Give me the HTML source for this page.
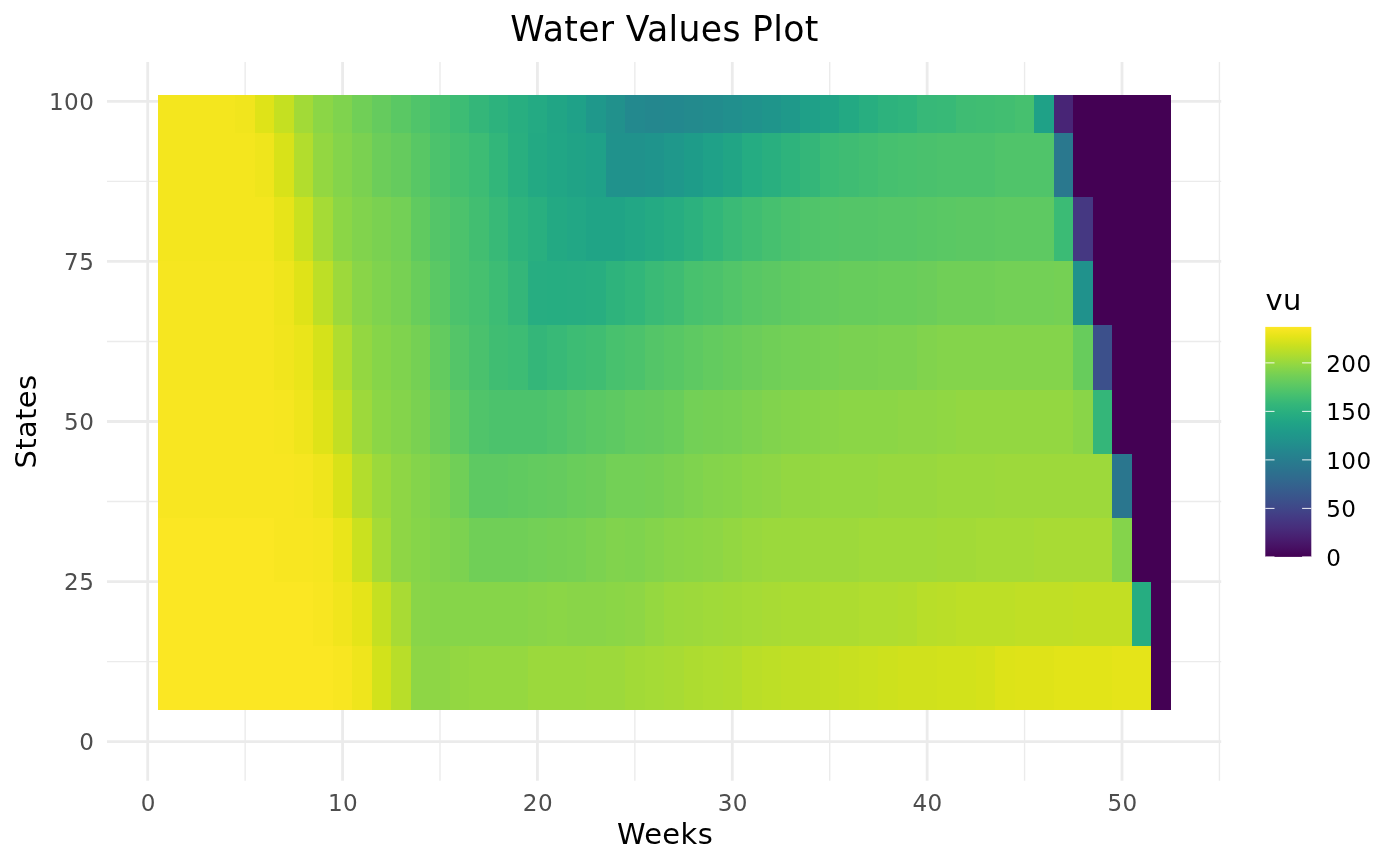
<!DOCTYPE html>
<html><head><meta charset="utf-8"><title>Water Values Plot</title>
<style>
html,body{margin:0;padding:0;background:#fff;}
body{width:1400px;height:865px;overflow:hidden;}
svg{display:block;}
text{font-family:"DejaVu Sans","Liberation Sans",sans-serif;}
.tick{font-size:23.1px;fill:#4d4d4d;letter-spacing:.35px;}
.leg{font-size:23.1px;fill:#000;letter-spacing:.35px;}
.ttl{font-size:28.9px;fill:#000;letter-spacing:.4px;}
</style></head><body>
<svg width="1400" height="865" viewBox="0 0 1400 865">
<rect x="0" y="0" width="1400" height="865" fill="#ffffff"/>

<g stroke="#ebebeb" stroke-width="1.4" fill="none">
<line x1="245.13" x2="245.13" y1="62.00" y2="780.80"/>
<line x1="439.99" x2="439.99" y1="62.00" y2="780.80"/>
<line x1="634.85" x2="634.85" y1="62.00" y2="780.80"/>
<line x1="829.71" x2="829.71" y1="62.00" y2="780.80"/>
<line x1="1024.57" x2="1024.57" y1="62.00" y2="780.80"/>
<line x1="1219.43" x2="1219.43" y1="62.00" y2="780.80"/>
<line x1="107.00" x2="1221.20" y1="661.65" y2="661.65"/>
<line x1="107.00" x2="1221.20" y1="501.55" y2="501.55"/>
<line x1="107.00" x2="1221.20" y1="341.45" y2="341.45"/>
<line x1="107.00" x2="1221.20" y1="181.35" y2="181.35"/>
</g>
<g stroke="#ebebeb" stroke-width="2.8" fill="none">
<line x1="147.70" x2="147.70" y1="62.00" y2="780.80"/>
<line x1="342.56" x2="342.56" y1="62.00" y2="780.80"/>
<line x1="537.42" x2="537.42" y1="62.00" y2="780.80"/>
<line x1="732.28" x2="732.28" y1="62.00" y2="780.80"/>
<line x1="927.14" x2="927.14" y1="62.00" y2="780.80"/>
<line x1="1122.00" x2="1122.00" y1="62.00" y2="780.80"/>
<line x1="107.00" x2="1221.20" y1="741.70" y2="741.70"/>
<line x1="107.00" x2="1221.20" y1="581.60" y2="581.60"/>
<line x1="107.00" x2="1221.20" y1="421.50" y2="421.50"/>
<line x1="107.00" x2="1221.20" y1="261.40" y2="261.40"/>
<line x1="107.00" x2="1221.20" y1="101.30" y2="101.30"/>
</g>
<g shape-rendering="crispEdges" stroke="none">
<rect x="158.00" y="95.00" width="77.69" height="38.00" fill="#f4e61e"/>
<rect x="235.39" y="95.00" width="19.79" height="38.00" fill="#f1e51d"/>
<rect x="254.87" y="95.00" width="19.79" height="38.00" fill="#dfe318"/>
<rect x="274.36" y="95.00" width="19.79" height="38.00" fill="#c5e021"/>
<rect x="293.85" y="95.00" width="19.79" height="38.00" fill="#a2da37"/>
<rect x="313.33" y="95.00" width="19.79" height="38.00" fill="#8bd646"/>
<rect x="332.82" y="95.00" width="19.79" height="38.00" fill="#7fd34e"/>
<rect x="352.30" y="95.00" width="19.79" height="38.00" fill="#70cf57"/>
<rect x="371.79" y="95.00" width="19.79" height="38.00" fill="#65cb5e"/>
<rect x="391.27" y="95.00" width="19.79" height="38.00" fill="#5ac864"/>
<rect x="410.76" y="95.00" width="19.79" height="38.00" fill="#50c46a"/>
<rect x="430.25" y="95.00" width="19.79" height="38.00" fill="#46c06f"/>
<rect x="449.73" y="95.00" width="19.79" height="38.00" fill="#3dbc74"/>
<rect x="469.22" y="95.00" width="19.79" height="38.00" fill="#34b679"/>
<rect x="488.70" y="95.00" width="19.79" height="38.00" fill="#2db27d"/>
<rect x="508.19" y="95.00" width="19.79" height="38.00" fill="#28ae80"/>
<rect x="527.68" y="95.00" width="19.79" height="38.00" fill="#24aa83"/>
<rect x="547.16" y="95.00" width="19.79" height="38.00" fill="#21a585"/>
<rect x="566.65" y="95.00" width="19.79" height="38.00" fill="#1fa188"/>
<rect x="586.13" y="95.00" width="19.79" height="38.00" fill="#1f988b"/>
<rect x="605.62" y="95.00" width="19.79" height="38.00" fill="#21918c"/>
<rect x="625.11" y="95.00" width="19.79" height="38.00" fill="#23898e"/>
<rect x="644.59" y="95.00" width="19.79" height="38.00" fill="#24878e"/>
<rect x="664.08" y="95.00" width="19.79" height="38.00" fill="#23888e"/>
<rect x="683.57" y="95.00" width="19.79" height="38.00" fill="#238a8d"/>
<rect x="703.05" y="95.00" width="19.79" height="38.00" fill="#228c8d"/>
<rect x="722.54" y="95.00" width="19.79" height="38.00" fill="#218f8d"/>
<rect x="742.02" y="95.00" width="19.79" height="38.00" fill="#20928c"/>
<rect x="761.51" y="95.00" width="19.79" height="38.00" fill="#1f958b"/>
<rect x="781.00" y="95.00" width="19.79" height="38.00" fill="#1f998a"/>
<rect x="800.48" y="95.00" width="19.79" height="38.00" fill="#1fa088"/>
<rect x="819.97" y="95.00" width="19.79" height="38.00" fill="#20a386"/>
<rect x="839.45" y="95.00" width="19.79" height="38.00" fill="#23a983"/>
<rect x="858.94" y="95.00" width="19.79" height="38.00" fill="#28ae80"/>
<rect x="878.42" y="95.00" width="19.79" height="38.00" fill="#2db27d"/>
<rect x="897.91" y="95.00" width="19.79" height="38.00" fill="#2fb47c"/>
<rect x="917.40" y="95.00" width="19.79" height="38.00" fill="#37b878"/>
<rect x="936.88" y="95.00" width="19.79" height="38.00" fill="#38b977"/>
<rect x="956.37" y="95.00" width="19.79" height="38.00" fill="#3fbc73"/>
<rect x="975.86" y="95.00" width="19.79" height="38.00" fill="#40bd72"/>
<rect x="995.34" y="95.00" width="19.79" height="38.00" fill="#42be71"/>
<rect x="1014.83" y="95.00" width="19.79" height="38.00" fill="#46c06f"/>
<rect x="1034.31" y="95.00" width="19.79" height="38.00" fill="#1fa187"/>
<rect x="1053.80" y="95.00" width="19.79" height="38.00" fill="#482576"/>
<rect x="1073.29" y="95.00" width="97.73" height="38.00" fill="#440154"/>
<rect x="158.00" y="133.00" width="97.17" height="64.00" fill="#f4e61e"/>
<rect x="254.87" y="133.00" width="19.79" height="64.00" fill="#efe51c"/>
<rect x="274.36" y="133.00" width="19.79" height="64.00" fill="#d8e219"/>
<rect x="293.85" y="133.00" width="19.79" height="64.00" fill="#b2dd2d"/>
<rect x="313.33" y="133.00" width="19.79" height="64.00" fill="#93d741"/>
<rect x="332.82" y="133.00" width="19.79" height="64.00" fill="#84d44b"/>
<rect x="352.30" y="133.00" width="19.79" height="64.00" fill="#7ad151"/>
<rect x="371.79" y="133.00" width="19.79" height="64.00" fill="#6ccd5a"/>
<rect x="391.27" y="133.00" width="19.79" height="64.00" fill="#65cb5e"/>
<rect x="410.76" y="133.00" width="19.79" height="64.00" fill="#58c765"/>
<rect x="430.25" y="133.00" width="19.79" height="64.00" fill="#4cc26c"/>
<rect x="449.73" y="133.00" width="19.79" height="64.00" fill="#44bf70"/>
<rect x="469.22" y="133.00" width="19.79" height="64.00" fill="#3dbc74"/>
<rect x="488.70" y="133.00" width="19.79" height="64.00" fill="#32b67a"/>
<rect x="508.19" y="133.00" width="19.79" height="64.00" fill="#29af7f"/>
<rect x="527.68" y="133.00" width="19.79" height="64.00" fill="#23a983"/>
<rect x="547.16" y="133.00" width="19.79" height="64.00" fill="#21a685"/>
<rect x="566.65" y="133.00" width="19.79" height="64.00" fill="#20a386"/>
<rect x="586.13" y="133.00" width="19.79" height="64.00" fill="#1fa188"/>
<rect x="605.62" y="133.00" width="39.27" height="64.00" fill="#20928c"/>
<rect x="644.59" y="133.00" width="19.79" height="64.00" fill="#1f948c"/>
<rect x="664.08" y="133.00" width="19.79" height="64.00" fill="#1f988b"/>
<rect x="683.57" y="133.00" width="19.79" height="64.00" fill="#1e9c89"/>
<rect x="703.05" y="133.00" width="19.79" height="64.00" fill="#1fa188"/>
<rect x="722.54" y="133.00" width="19.79" height="64.00" fill="#21a585"/>
<rect x="742.02" y="133.00" width="19.79" height="64.00" fill="#25ac82"/>
<rect x="761.51" y="133.00" width="19.79" height="64.00" fill="#29af7f"/>
<rect x="781.00" y="133.00" width="19.79" height="64.00" fill="#2eb37c"/>
<rect x="800.48" y="133.00" width="19.79" height="64.00" fill="#34b679"/>
<rect x="819.97" y="133.00" width="19.79" height="64.00" fill="#3bbb75"/>
<rect x="839.45" y="133.00" width="19.79" height="64.00" fill="#3fbc73"/>
<rect x="858.94" y="133.00" width="19.79" height="64.00" fill="#42be71"/>
<rect x="878.42" y="133.00" width="19.79" height="64.00" fill="#46c06f"/>
<rect x="897.91" y="133.00" width="19.79" height="64.00" fill="#48c16e"/>
<rect x="917.40" y="133.00" width="19.79" height="64.00" fill="#4ac16d"/>
<rect x="936.88" y="133.00" width="58.76" height="64.00" fill="#4cc26c"/>
<rect x="995.34" y="133.00" width="58.76" height="64.00" fill="#50c46a"/>
<rect x="1053.80" y="133.00" width="19.79" height="64.00" fill="#2a788e"/>
<rect x="1073.29" y="133.00" width="97.73" height="64.00" fill="#440154"/>
<rect x="158.00" y="197.00" width="116.66" height="64.00" fill="#f4e61e"/>
<rect x="274.36" y="197.00" width="19.79" height="64.00" fill="#e7e419"/>
<rect x="293.85" y="197.00" width="19.79" height="64.00" fill="#cae11f"/>
<rect x="313.33" y="197.00" width="19.79" height="64.00" fill="#a5db36"/>
<rect x="332.82" y="197.00" width="19.79" height="64.00" fill="#8bd646"/>
<rect x="352.30" y="197.00" width="19.79" height="64.00" fill="#81d34d"/>
<rect x="371.79" y="197.00" width="19.79" height="64.00" fill="#7ad151"/>
<rect x="391.27" y="197.00" width="19.79" height="64.00" fill="#73d056"/>
<rect x="410.76" y="197.00" width="19.79" height="64.00" fill="#60ca60"/>
<rect x="430.25" y="197.00" width="19.79" height="64.00" fill="#54c568"/>
<rect x="449.73" y="197.00" width="19.79" height="64.00" fill="#4cc26c"/>
<rect x="469.22" y="197.00" width="19.79" height="64.00" fill="#42be71"/>
<rect x="488.70" y="197.00" width="19.79" height="64.00" fill="#38b977"/>
<rect x="508.19" y="197.00" width="19.79" height="64.00" fill="#2eb37c"/>
<rect x="527.68" y="197.00" width="19.79" height="64.00" fill="#29af7f"/>
<rect x="547.16" y="197.00" width="19.79" height="64.00" fill="#23a983"/>
<rect x="566.65" y="197.00" width="19.79" height="64.00" fill="#22a785"/>
<rect x="586.13" y="197.00" width="39.27" height="64.00" fill="#20a486"/>
<rect x="625.11" y="197.00" width="19.79" height="64.00" fill="#22a785"/>
<rect x="644.59" y="197.00" width="19.79" height="64.00" fill="#24aa83"/>
<rect x="664.08" y="197.00" width="19.79" height="64.00" fill="#27ad81"/>
<rect x="683.57" y="197.00" width="19.79" height="64.00" fill="#2cb17e"/>
<rect x="703.05" y="197.00" width="19.79" height="64.00" fill="#32b67a"/>
<rect x="722.54" y="197.00" width="19.79" height="64.00" fill="#3aba76"/>
<rect x="742.02" y="197.00" width="19.79" height="64.00" fill="#40bd72"/>
<rect x="761.51" y="197.00" width="19.79" height="64.00" fill="#46c06f"/>
<rect x="781.00" y="197.00" width="19.79" height="64.00" fill="#4cc26c"/>
<rect x="800.48" y="197.00" width="19.79" height="64.00" fill="#50c46a"/>
<rect x="819.97" y="197.00" width="19.79" height="64.00" fill="#52c569"/>
<rect x="839.45" y="197.00" width="39.27" height="64.00" fill="#54c568"/>
<rect x="878.42" y="197.00" width="39.27" height="64.00" fill="#56c667"/>
<rect x="917.40" y="197.00" width="19.79" height="64.00" fill="#58c765"/>
<rect x="936.88" y="197.00" width="19.79" height="64.00" fill="#5ac864"/>
<rect x="956.37" y="197.00" width="39.27" height="64.00" fill="#5cc863"/>
<rect x="995.34" y="197.00" width="58.76" height="64.00" fill="#5ec962"/>
<rect x="1053.80" y="197.00" width="19.79" height="64.00" fill="#3bbb75"/>
<rect x="1073.29" y="197.00" width="19.79" height="64.00" fill="#453882"/>
<rect x="1092.77" y="197.00" width="78.24" height="64.00" fill="#440154"/>
<rect x="158.00" y="261.00" width="116.66" height="64.00" fill="#f6e620"/>
<rect x="274.36" y="261.00" width="19.79" height="64.00" fill="#efe51c"/>
<rect x="293.85" y="261.00" width="19.79" height="64.00" fill="#dfe318"/>
<rect x="313.33" y="261.00" width="19.79" height="64.00" fill="#bddf26"/>
<rect x="332.82" y="261.00" width="19.79" height="64.00" fill="#9dd93b"/>
<rect x="352.30" y="261.00" width="19.79" height="64.00" fill="#89d548"/>
<rect x="371.79" y="261.00" width="19.79" height="64.00" fill="#7fd34e"/>
<rect x="391.27" y="261.00" width="19.79" height="64.00" fill="#77d153"/>
<rect x="410.76" y="261.00" width="19.79" height="64.00" fill="#69cd5b"/>
<rect x="430.25" y="261.00" width="19.79" height="64.00" fill="#5ac864"/>
<rect x="449.73" y="261.00" width="19.79" height="64.00" fill="#4cc26c"/>
<rect x="469.22" y="261.00" width="19.79" height="64.00" fill="#46c06f"/>
<rect x="488.70" y="261.00" width="19.79" height="64.00" fill="#3dbc74"/>
<rect x="508.19" y="261.00" width="19.79" height="64.00" fill="#34b679"/>
<rect x="527.68" y="261.00" width="19.79" height="64.00" fill="#27ad81"/>
<rect x="547.16" y="261.00" width="19.79" height="64.00" fill="#26ad81"/>
<rect x="566.65" y="261.00" width="19.79" height="64.00" fill="#27ad81"/>
<rect x="586.13" y="261.00" width="19.79" height="64.00" fill="#28ae80"/>
<rect x="605.62" y="261.00" width="19.79" height="64.00" fill="#2eb37c"/>
<rect x="625.11" y="261.00" width="19.79" height="64.00" fill="#32b67a"/>
<rect x="644.59" y="261.00" width="19.79" height="64.00" fill="#3aba76"/>
<rect x="664.08" y="261.00" width="19.79" height="64.00" fill="#3fbc73"/>
<rect x="683.57" y="261.00" width="19.79" height="64.00" fill="#48c16e"/>
<rect x="703.05" y="261.00" width="19.79" height="64.00" fill="#4cc26c"/>
<rect x="722.54" y="261.00" width="19.79" height="64.00" fill="#52c569"/>
<rect x="742.02" y="261.00" width="19.79" height="64.00" fill="#58c765"/>
<rect x="761.51" y="261.00" width="19.79" height="64.00" fill="#5cc863"/>
<rect x="781.00" y="261.00" width="19.79" height="64.00" fill="#60ca60"/>
<rect x="800.48" y="261.00" width="19.79" height="64.00" fill="#63cb5f"/>
<rect x="819.97" y="261.00" width="19.79" height="64.00" fill="#65cb5e"/>
<rect x="839.45" y="261.00" width="39.27" height="64.00" fill="#67cc5c"/>
<rect x="878.42" y="261.00" width="39.27" height="64.00" fill="#69cd5b"/>
<rect x="917.40" y="261.00" width="19.79" height="64.00" fill="#6ccd5a"/>
<rect x="936.88" y="261.00" width="58.76" height="64.00" fill="#70cf57"/>
<rect x="995.34" y="261.00" width="58.76" height="64.00" fill="#73d056"/>
<rect x="1053.80" y="261.00" width="19.79" height="64.00" fill="#75d054"/>
<rect x="1073.29" y="261.00" width="19.79" height="64.00" fill="#20928c"/>
<rect x="1092.77" y="261.00" width="78.24" height="64.00" fill="#440154"/>
<rect x="158.00" y="325.00" width="116.66" height="65.00" fill="#f6e620"/>
<rect x="274.36" y="325.00" width="19.79" height="65.00" fill="#f1e51d"/>
<rect x="293.85" y="325.00" width="19.79" height="65.00" fill="#eae51a"/>
<rect x="313.33" y="325.00" width="19.79" height="65.00" fill="#d5e21a"/>
<rect x="332.82" y="325.00" width="19.79" height="65.00" fill="#b0dd2f"/>
<rect x="352.30" y="325.00" width="19.79" height="65.00" fill="#93d741"/>
<rect x="371.79" y="325.00" width="19.79" height="65.00" fill="#86d549"/>
<rect x="391.27" y="325.00" width="19.79" height="65.00" fill="#7fd34e"/>
<rect x="410.76" y="325.00" width="19.79" height="65.00" fill="#75d054"/>
<rect x="430.25" y="325.00" width="19.79" height="65.00" fill="#63cb5f"/>
<rect x="449.73" y="325.00" width="19.79" height="65.00" fill="#54c568"/>
<rect x="469.22" y="325.00" width="19.79" height="65.00" fill="#4ac16d"/>
<rect x="488.70" y="325.00" width="19.79" height="65.00" fill="#40bd72"/>
<rect x="508.19" y="325.00" width="19.79" height="65.00" fill="#3dbc74"/>
<rect x="527.68" y="325.00" width="19.79" height="65.00" fill="#34b679"/>
<rect x="547.16" y="325.00" width="19.79" height="65.00" fill="#38b977"/>
<rect x="566.65" y="325.00" width="19.79" height="65.00" fill="#3dbc74"/>
<rect x="586.13" y="325.00" width="19.79" height="65.00" fill="#40bd72"/>
<rect x="605.62" y="325.00" width="19.79" height="65.00" fill="#48c16e"/>
<rect x="625.11" y="325.00" width="19.79" height="65.00" fill="#4cc26c"/>
<rect x="644.59" y="325.00" width="19.79" height="65.00" fill="#54c568"/>
<rect x="664.08" y="325.00" width="19.79" height="65.00" fill="#58c765"/>
<rect x="683.57" y="325.00" width="19.79" height="65.00" fill="#5ec962"/>
<rect x="703.05" y="325.00" width="19.79" height="65.00" fill="#63cb5f"/>
<rect x="722.54" y="325.00" width="19.79" height="65.00" fill="#67cc5c"/>
<rect x="742.02" y="325.00" width="19.79" height="65.00" fill="#6ccd5a"/>
<rect x="761.51" y="325.00" width="19.79" height="65.00" fill="#70cf57"/>
<rect x="781.00" y="325.00" width="19.79" height="65.00" fill="#73d056"/>
<rect x="800.48" y="325.00" width="19.79" height="65.00" fill="#75d054"/>
<rect x="819.97" y="325.00" width="19.79" height="65.00" fill="#77d153"/>
<rect x="839.45" y="325.00" width="39.27" height="65.00" fill="#7ad151"/>
<rect x="878.42" y="325.00" width="39.27" height="65.00" fill="#7cd250"/>
<rect x="917.40" y="325.00" width="19.79" height="65.00" fill="#81d34d"/>
<rect x="936.88" y="325.00" width="136.70" height="65.00" fill="#84d44b"/>
<rect x="1073.29" y="325.00" width="19.79" height="65.00" fill="#67cc5c"/>
<rect x="1092.77" y="325.00" width="19.79" height="65.00" fill="#3c508b"/>
<rect x="1112.26" y="325.00" width="58.76" height="65.00" fill="#440154"/>
<rect x="158.00" y="390.00" width="116.66" height="64.00" fill="#f8e621"/>
<rect x="274.36" y="390.00" width="19.79" height="64.00" fill="#f6e620"/>
<rect x="293.85" y="390.00" width="19.79" height="64.00" fill="#efe51c"/>
<rect x="313.33" y="390.00" width="19.79" height="64.00" fill="#dfe318"/>
<rect x="332.82" y="390.00" width="19.79" height="64.00" fill="#c2df23"/>
<rect x="352.30" y="390.00" width="19.79" height="64.00" fill="#9dd93b"/>
<rect x="371.79" y="390.00" width="19.79" height="64.00" fill="#8bd646"/>
<rect x="391.27" y="390.00" width="19.79" height="64.00" fill="#84d44b"/>
<rect x="410.76" y="390.00" width="19.79" height="64.00" fill="#7ad151"/>
<rect x="430.25" y="390.00" width="19.79" height="64.00" fill="#6ccd5a"/>
<rect x="449.73" y="390.00" width="19.79" height="64.00" fill="#5ec962"/>
<rect x="469.22" y="390.00" width="19.79" height="64.00" fill="#50c46a"/>
<rect x="488.70" y="390.00" width="58.76" height="64.00" fill="#4cc26c"/>
<rect x="547.16" y="390.00" width="19.79" height="64.00" fill="#50c46a"/>
<rect x="566.65" y="390.00" width="19.79" height="64.00" fill="#56c667"/>
<rect x="586.13" y="390.00" width="19.79" height="64.00" fill="#5ac864"/>
<rect x="605.62" y="390.00" width="19.79" height="64.00" fill="#5ec962"/>
<rect x="625.11" y="390.00" width="19.79" height="64.00" fill="#63cb5f"/>
<rect x="644.59" y="390.00" width="19.79" height="64.00" fill="#65cb5e"/>
<rect x="664.08" y="390.00" width="19.79" height="64.00" fill="#69cd5b"/>
<rect x="683.57" y="390.00" width="19.79" height="64.00" fill="#73d056"/>
<rect x="703.05" y="390.00" width="19.79" height="64.00" fill="#75d054"/>
<rect x="722.54" y="390.00" width="19.79" height="64.00" fill="#77d153"/>
<rect x="742.02" y="390.00" width="19.79" height="64.00" fill="#7cd250"/>
<rect x="761.51" y="390.00" width="19.79" height="64.00" fill="#81d34d"/>
<rect x="781.00" y="390.00" width="19.79" height="64.00" fill="#84d44b"/>
<rect x="800.48" y="390.00" width="19.79" height="64.00" fill="#86d549"/>
<rect x="819.97" y="390.00" width="19.79" height="64.00" fill="#89d548"/>
<rect x="839.45" y="390.00" width="58.76" height="64.00" fill="#8bd646"/>
<rect x="897.91" y="390.00" width="39.27" height="64.00" fill="#8ed645"/>
<rect x="936.88" y="390.00" width="19.79" height="64.00" fill="#90d743"/>
<rect x="956.37" y="390.00" width="117.22" height="64.00" fill="#93d741"/>
<rect x="1073.29" y="390.00" width="19.79" height="64.00" fill="#89d548"/>
<rect x="1092.77" y="390.00" width="19.79" height="64.00" fill="#34b679"/>
<rect x="1112.26" y="390.00" width="58.76" height="64.00" fill="#440154"/>
<rect x="158.00" y="454.00" width="136.15" height="64.00" fill="#f8e621"/>
<rect x="293.85" y="454.00" width="19.79" height="64.00" fill="#f6e620"/>
<rect x="313.33" y="454.00" width="19.79" height="64.00" fill="#efe51c"/>
<rect x="332.82" y="454.00" width="19.79" height="64.00" fill="#d8e219"/>
<rect x="352.30" y="454.00" width="19.79" height="64.00" fill="#b2dd2d"/>
<rect x="371.79" y="454.00" width="19.79" height="64.00" fill="#9bd93c"/>
<rect x="391.27" y="454.00" width="19.79" height="64.00" fill="#8ed645"/>
<rect x="410.76" y="454.00" width="19.79" height="64.00" fill="#84d44b"/>
<rect x="430.25" y="454.00" width="19.79" height="64.00" fill="#7cd250"/>
<rect x="449.73" y="454.00" width="19.79" height="64.00" fill="#70cf57"/>
<rect x="469.22" y="454.00" width="39.27" height="64.00" fill="#5ec962"/>
<rect x="508.19" y="454.00" width="19.79" height="64.00" fill="#60ca60"/>
<rect x="527.68" y="454.00" width="19.79" height="64.00" fill="#63cb5f"/>
<rect x="547.16" y="454.00" width="19.79" height="64.00" fill="#65cb5e"/>
<rect x="566.65" y="454.00" width="19.79" height="64.00" fill="#69cd5b"/>
<rect x="586.13" y="454.00" width="19.79" height="64.00" fill="#6ccd5a"/>
<rect x="605.62" y="454.00" width="39.27" height="64.00" fill="#73d056"/>
<rect x="644.59" y="454.00" width="19.79" height="64.00" fill="#75d054"/>
<rect x="664.08" y="454.00" width="19.79" height="64.00" fill="#7ad151"/>
<rect x="683.57" y="454.00" width="19.79" height="64.00" fill="#7fd34e"/>
<rect x="703.05" y="454.00" width="19.79" height="64.00" fill="#84d44b"/>
<rect x="722.54" y="454.00" width="19.79" height="64.00" fill="#86d549"/>
<rect x="742.02" y="454.00" width="19.79" height="64.00" fill="#8bd646"/>
<rect x="761.51" y="454.00" width="19.79" height="64.00" fill="#8ed645"/>
<rect x="781.00" y="454.00" width="39.27" height="64.00" fill="#93d741"/>
<rect x="819.97" y="454.00" width="58.76" height="64.00" fill="#95d840"/>
<rect x="878.42" y="454.00" width="58.76" height="64.00" fill="#98d83e"/>
<rect x="936.88" y="454.00" width="58.76" height="64.00" fill="#9bd93c"/>
<rect x="995.34" y="454.00" width="117.22" height="64.00" fill="#9dd93b"/>
<rect x="1112.26" y="454.00" width="19.79" height="64.00" fill="#2a768e"/>
<rect x="1131.74" y="454.00" width="39.27" height="64.00" fill="#440154"/>
<rect x="158.00" y="518.00" width="116.66" height="64.00" fill="#fbe723"/>
<rect x="274.36" y="518.00" width="39.27" height="64.00" fill="#f8e621"/>
<rect x="313.33" y="518.00" width="19.79" height="64.00" fill="#f6e620"/>
<rect x="332.82" y="518.00" width="19.79" height="64.00" fill="#eae51a"/>
<rect x="352.30" y="518.00" width="19.79" height="64.00" fill="#cae11f"/>
<rect x="371.79" y="518.00" width="19.79" height="64.00" fill="#a5db36"/>
<rect x="391.27" y="518.00" width="19.79" height="64.00" fill="#8ed645"/>
<rect x="410.76" y="518.00" width="19.79" height="64.00" fill="#86d549"/>
<rect x="430.25" y="518.00" width="19.79" height="64.00" fill="#81d34d"/>
<rect x="449.73" y="518.00" width="19.79" height="64.00" fill="#7cd250"/>
<rect x="469.22" y="518.00" width="58.76" height="64.00" fill="#70cf57"/>
<rect x="527.68" y="518.00" width="19.79" height="64.00" fill="#73d056"/>
<rect x="547.16" y="518.00" width="19.79" height="64.00" fill="#75d054"/>
<rect x="566.65" y="518.00" width="19.79" height="64.00" fill="#77d153"/>
<rect x="586.13" y="518.00" width="19.79" height="64.00" fill="#7cd250"/>
<rect x="605.62" y="518.00" width="19.79" height="64.00" fill="#81d34d"/>
<rect x="625.11" y="518.00" width="19.79" height="64.00" fill="#7fd34e"/>
<rect x="644.59" y="518.00" width="19.79" height="64.00" fill="#84d44b"/>
<rect x="664.08" y="518.00" width="19.79" height="64.00" fill="#89d548"/>
<rect x="683.57" y="518.00" width="19.79" height="64.00" fill="#8bd646"/>
<rect x="703.05" y="518.00" width="19.79" height="64.00" fill="#8ed645"/>
<rect x="722.54" y="518.00" width="19.79" height="64.00" fill="#93d741"/>
<rect x="742.02" y="518.00" width="19.79" height="64.00" fill="#98d83e"/>
<rect x="761.51" y="518.00" width="39.27" height="64.00" fill="#9bd93c"/>
<rect x="800.48" y="518.00" width="58.76" height="64.00" fill="#9dd93b"/>
<rect x="858.94" y="518.00" width="78.24" height="64.00" fill="#a0da39"/>
<rect x="936.88" y="518.00" width="39.27" height="64.00" fill="#a2da37"/>
<rect x="975.86" y="518.00" width="58.76" height="64.00" fill="#a5db36"/>
<rect x="1034.31" y="518.00" width="78.24" height="64.00" fill="#a8db34"/>
<rect x="1112.26" y="518.00" width="19.79" height="64.00" fill="#84d44b"/>
<rect x="1131.74" y="518.00" width="39.27" height="64.00" fill="#440154"/>
<rect x="158.00" y="582.00" width="155.63" height="64.00" fill="#fbe723"/>
<rect x="313.33" y="582.00" width="19.79" height="64.00" fill="#f8e621"/>
<rect x="332.82" y="582.00" width="19.79" height="64.00" fill="#f1e51d"/>
<rect x="352.30" y="582.00" width="19.79" height="64.00" fill="#e5e419"/>
<rect x="371.79" y="582.00" width="19.79" height="64.00" fill="#c5e021"/>
<rect x="391.27" y="582.00" width="19.79" height="64.00" fill="#a8db34"/>
<rect x="410.76" y="582.00" width="19.79" height="64.00" fill="#89d548"/>
<rect x="430.25" y="582.00" width="97.73" height="64.00" fill="#86d549"/>
<rect x="527.68" y="582.00" width="19.79" height="64.00" fill="#89d548"/>
<rect x="547.16" y="582.00" width="19.79" height="64.00" fill="#8bd646"/>
<rect x="566.65" y="582.00" width="39.27" height="64.00" fill="#89d548"/>
<rect x="605.62" y="582.00" width="19.79" height="64.00" fill="#8bd646"/>
<rect x="625.11" y="582.00" width="19.79" height="64.00" fill="#8ed645"/>
<rect x="644.59" y="582.00" width="19.79" height="64.00" fill="#95d840"/>
<rect x="664.08" y="582.00" width="19.79" height="64.00" fill="#9bd93c"/>
<rect x="683.57" y="582.00" width="19.79" height="64.00" fill="#9dd93b"/>
<rect x="703.05" y="582.00" width="19.79" height="64.00" fill="#a0da39"/>
<rect x="722.54" y="582.00" width="19.79" height="64.00" fill="#a2da37"/>
<rect x="742.02" y="582.00" width="19.79" height="64.00" fill="#a5db36"/>
<rect x="761.51" y="582.00" width="19.79" height="64.00" fill="#a8db34"/>
<rect x="781.00" y="582.00" width="39.27" height="64.00" fill="#aadc32"/>
<rect x="819.97" y="582.00" width="39.27" height="64.00" fill="#addc30"/>
<rect x="858.94" y="582.00" width="39.27" height="64.00" fill="#b0dd2f"/>
<rect x="897.91" y="582.00" width="19.79" height="64.00" fill="#b2dd2d"/>
<rect x="917.40" y="582.00" width="19.79" height="64.00" fill="#b8de29"/>
<rect x="936.88" y="582.00" width="19.79" height="64.00" fill="#bade28"/>
<rect x="956.37" y="582.00" width="58.76" height="64.00" fill="#bddf26"/>
<rect x="1014.83" y="582.00" width="58.76" height="64.00" fill="#c0df25"/>
<rect x="1073.29" y="582.00" width="58.76" height="64.00" fill="#c2df23"/>
<rect x="1131.74" y="582.00" width="19.79" height="64.00" fill="#26ad81"/>
<rect x="1151.23" y="582.00" width="19.79" height="64.00" fill="#440154"/>
<rect x="158.00" y="646.00" width="175.12" height="64.00" fill="#fbe723"/>
<rect x="332.82" y="646.00" width="19.79" height="64.00" fill="#f8e621"/>
<rect x="352.30" y="646.00" width="19.79" height="64.00" fill="#efe51c"/>
<rect x="371.79" y="646.00" width="19.79" height="64.00" fill="#d2e21b"/>
<rect x="391.27" y="646.00" width="19.79" height="64.00" fill="#b8de29"/>
<rect x="410.76" y="646.00" width="39.27" height="64.00" fill="#8ed645"/>
<rect x="449.73" y="646.00" width="19.79" height="64.00" fill="#93d741"/>
<rect x="469.22" y="646.00" width="58.76" height="64.00" fill="#95d840"/>
<rect x="527.68" y="646.00" width="58.76" height="64.00" fill="#9bd93c"/>
<rect x="586.13" y="646.00" width="39.27" height="64.00" fill="#9dd93b"/>
<rect x="625.11" y="646.00" width="19.79" height="64.00" fill="#a2da37"/>
<rect x="644.59" y="646.00" width="19.79" height="64.00" fill="#a5db36"/>
<rect x="664.08" y="646.00" width="19.79" height="64.00" fill="#a8db34"/>
<rect x="683.57" y="646.00" width="19.79" height="64.00" fill="#addc30"/>
<rect x="703.05" y="646.00" width="19.79" height="64.00" fill="#b0dd2f"/>
<rect x="722.54" y="646.00" width="19.79" height="64.00" fill="#b2dd2d"/>
<rect x="742.02" y="646.00" width="19.79" height="64.00" fill="#bade28"/>
<rect x="761.51" y="646.00" width="19.79" height="64.00" fill="#bddf26"/>
<rect x="781.00" y="646.00" width="19.79" height="64.00" fill="#c0df25"/>
<rect x="800.48" y="646.00" width="19.79" height="64.00" fill="#c2df23"/>
<rect x="819.97" y="646.00" width="19.79" height="64.00" fill="#c5e021"/>
<rect x="839.45" y="646.00" width="19.79" height="64.00" fill="#c8e020"/>
<rect x="858.94" y="646.00" width="19.79" height="64.00" fill="#cae11f"/>
<rect x="878.42" y="646.00" width="19.79" height="64.00" fill="#cde11d"/>
<rect x="897.91" y="646.00" width="39.27" height="64.00" fill="#d0e11c"/>
<rect x="936.88" y="646.00" width="39.27" height="64.00" fill="#d2e21b"/>
<rect x="975.86" y="646.00" width="19.79" height="64.00" fill="#d5e21a"/>
<rect x="995.34" y="646.00" width="19.79" height="64.00" fill="#dde318"/>
<rect x="1014.83" y="646.00" width="39.27" height="64.00" fill="#dfe318"/>
<rect x="1053.80" y="646.00" width="58.76" height="64.00" fill="#e2e418"/>
<rect x="1112.26" y="646.00" width="39.27" height="64.00" fill="#e5e419"/>
<rect x="1151.23" y="646.00" width="19.79" height="64.00" fill="#440154"/>
</g>
<text class="tick" x="148.20" y="810.6" text-anchor="middle">0</text>
<text class="tick" x="343.06" y="810.6" text-anchor="middle">10</text>
<text class="tick" x="537.92" y="810.6" text-anchor="middle">20</text>
<text class="tick" x="732.78" y="810.6" text-anchor="middle">30</text>
<text class="tick" x="927.64" y="810.6" text-anchor="middle">40</text>
<text class="tick" x="1122.50" y="810.6" text-anchor="middle">50</text>
<text class="tick" x="94.2" y="750.00" text-anchor="end">0</text>
<text class="tick" x="94.2" y="589.90" text-anchor="end">25</text>
<text class="tick" x="94.2" y="429.80" text-anchor="end">50</text>
<text class="tick" x="94.2" y="269.70" text-anchor="end">75</text>
<text class="tick" x="94.2" y="109.60" text-anchor="end">100</text>
<text x="664.5" y="40.5" text-anchor="middle" font-size="34.7" letter-spacing=".3" fill="#000">Water Values Plot</text>
<text class="ttl" x="665" y="844" text-anchor="middle">Weeks</text>
<text class="ttl" transform="translate(36,421.5) rotate(-90)" text-anchor="middle">States</text>
<defs><linearGradient id="vg" x1="0" y1="1" x2="0" y2="0">
<stop offset="0.0000" stop-color="#440154"/>
<stop offset="0.0417" stop-color="#471063"/>
<stop offset="0.0833" stop-color="#481f70"/>
<stop offset="0.1250" stop-color="#472d7b"/>
<stop offset="0.1667" stop-color="#443983"/>
<stop offset="0.2083" stop-color="#404688"/>
<stop offset="0.2500" stop-color="#3b528b"/>
<stop offset="0.2917" stop-color="#365d8d"/>
<stop offset="0.3333" stop-color="#31688e"/>
<stop offset="0.3750" stop-color="#2c728e"/>
<stop offset="0.4167" stop-color="#287c8e"/>
<stop offset="0.4583" stop-color="#24868e"/>
<stop offset="0.5000" stop-color="#21918c"/>
<stop offset="0.5417" stop-color="#1f9a8a"/>
<stop offset="0.5833" stop-color="#20a486"/>
<stop offset="0.6250" stop-color="#28ae80"/>
<stop offset="0.6667" stop-color="#35b779"/>
<stop offset="0.7083" stop-color="#48c16e"/>
<stop offset="0.7500" stop-color="#5ec962"/>
<stop offset="0.7917" stop-color="#75d054"/>
<stop offset="0.8333" stop-color="#90d743"/>
<stop offset="0.8750" stop-color="#addc30"/>
<stop offset="0.9167" stop-color="#c8e020"/>
<stop offset="0.9583" stop-color="#e5e419"/>
<stop offset="1.0000" stop-color="#fde725"/>
</linearGradient></defs>
<rect x="1265.30" y="326.90" width="46.00" height="230.00" fill="url(#vg)"/>
<g stroke="#ffffff" stroke-width="1" stroke-opacity="0.9">
<line x1="1265.30" x2="1274.50" y1="556.90" y2="556.90"/>
<line x1="1302.10" x2="1311.30" y1="556.90" y2="556.90"/>
<line x1="1265.30" x2="1274.50" y1="508.40" y2="508.40"/>
<line x1="1302.10" x2="1311.30" y1="508.40" y2="508.40"/>
<line x1="1265.30" x2="1274.50" y1="459.89" y2="459.89"/>
<line x1="1302.10" x2="1311.30" y1="459.89" y2="459.89"/>
<line x1="1265.30" x2="1274.50" y1="411.39" y2="411.39"/>
<line x1="1302.10" x2="1311.30" y1="411.39" y2="411.39"/>
<line x1="1265.30" x2="1274.50" y1="362.89" y2="362.89"/>
<line x1="1302.10" x2="1311.30" y1="362.89" y2="362.89"/>
</g>
<text class="leg" x="1326.3" y="565.90">0</text>
<text class="leg" x="1326.3" y="517.40">50</text>
<text class="leg" x="1326.3" y="468.89">100</text>
<text class="leg" x="1326.3" y="420.39">150</text>
<text class="leg" x="1326.3" y="371.89">200</text>
<text class="ttl" x="1265.5" y="310">vu</text>
</svg></body></html>
